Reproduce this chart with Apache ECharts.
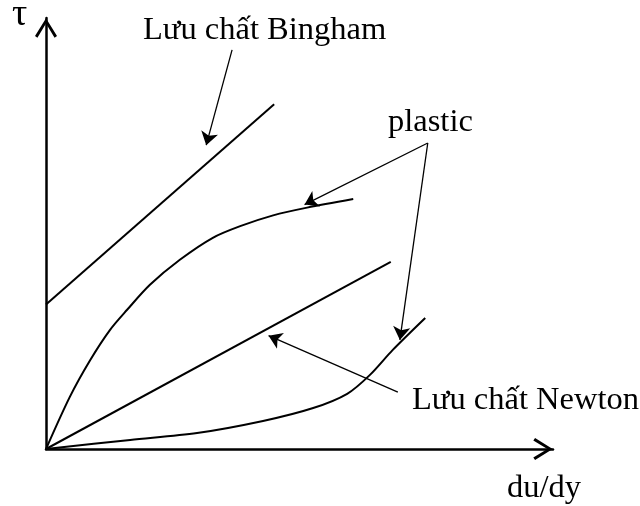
<!DOCTYPE html>
<html>
<head>
<meta charset="utf-8">
<script src="https://cdn.jsdelivr.net/npm/echarts@6/dist/echarts.min.js"></script>
<style>
	html, body { margin: 0; padding: 0; background: #fff; }
	#chartDiv { width: 640px; height: 506px; }
</style>
</head>
<body>
<div id="chartDiv"></div>
<script>
// duong cong (du/dy, tau) doc tu hinh
var binghamLine = [[0, 33.5], [45, 80]];
var newtonLine = [[0, 0], [68, 43.4]];
var pseudoCurve = [[0, 0], [4.7, 12.1], [8.7, 20.6], [12.6, 27.6], [16.0, 32.3], [20.5, 38.1],
	[26.4, 43.9], [32.9, 49.0], [38.3, 51.7], [44.8, 54.2], [51.5, 56.0], [60.6, 58.0]];
var dilatantCurve = [[0, 0], [16.6, 2.1], [29.8, 3.7], [42.8, 6.5], [52.7, 9.5], [59.4, 12.8],
	[63.9, 17.2], [68.4, 23.0], [74.8, 30.4]];

// mui ten chu thich: [diem dau, diem cuoi]
var arrowBingham = [[36.7, 92.6], [31.6, 70.5]];
var arrowPlastic1 = [[75.3, 71.0], [51.0, 56.7]];
var arrowPlastic2 = [[75.3, 71.0], [69.8, 25.3]];
var arrowNewton = [[69.4, 13.2], [43.9, 26.3]];

var labelTexts = ['τ', 'Lưu chất Bingham', 'plastic', 'Lưu chất Newton', 'du/dy'];

var chart = echarts.init(document.getElementById('chartDiv'));

var chevron = 'path://M50,0 L100,80 L89,88 L50,24 L11,88 L0,80 Z';
var font = '32.5px "Liberation Serif", "Times New Roman", serif';

function curve(datas, smooth) {
	return {
		type: 'line',
		data: datas,
		smooth: smooth,
		showSymbol: false,
		lineStyle: { color: '#000', width: 2 },
		animation: false
	};
}

function textItem(txt, x, y, f) {
	return {
		type: 'text',
		x: x,
		y: y,
		style: {
			text: txt,
			font: f || font,
			fill: '#000',
			verticalAlign: 'middle'
		}
	};
}

var option = {
	backgroundColor: '#fff',
	grid: { left: 46, right: 87, top: 18, bottom: 57 },
	xAxis: {
		type: 'value',
		min: 0,
		max: 100,
		splitLine: { show: false },
		axisTick: { show: false },
		axisLabel: { show: false },
		axisLine: {
			onZero: false,
			symbol: ['none', chevron],
			symbolSize: [22, 20],
			symbolOffset: [0, -10],
			lineStyle: { color: '#000', width: 2.5 }
		}
	},
	yAxis: {
		type: 'value',
		min: 0,
		max: 100,
		splitLine: { show: false },
		axisTick: { show: false },
		axisLabel: { show: false },
		axisLine: {
			show: true,
			onZero: false,
			symbol: ['none', chevron],
			symbolSize: [22, 20],
			symbolOffset: [0, -10],
			lineStyle: { color: '#000', width: 2.5 }
		}
	},
	series: [
		curve(binghamLine, false),
		curve(newtonLine, false),
		curve(pseudoCurve, 0.3),
		curve(dilatantCurve, 0.3),
		{
			type: 'lines',
			coordinateSystem: 'cartesian2d',
			symbol: ['none', 'arrow'],
			symbolSize: 13,
			lineStyle: { color: '#000', width: 1.3, opacity: 1 },
			data: [
				{ coords: arrowBingham },
				{ coords: arrowPlastic1 },
				{ coords: arrowPlastic2 },
				{ coords: arrowNewton }
			],
			animation: false
		}
	],
	graphic: [
		textItem(labelTexts[0], 12, 15, '38px "Liberation Serif", serif'),
		textItem(labelTexts[1], 143, 30),
		textItem(labelTexts[2], 388, 122),
		textItem(labelTexts[3], 412, 400),
		textItem(labelTexts[4], 507, 488)
	]
};

chart.setOption(option);
</script>
</body>
</html>
